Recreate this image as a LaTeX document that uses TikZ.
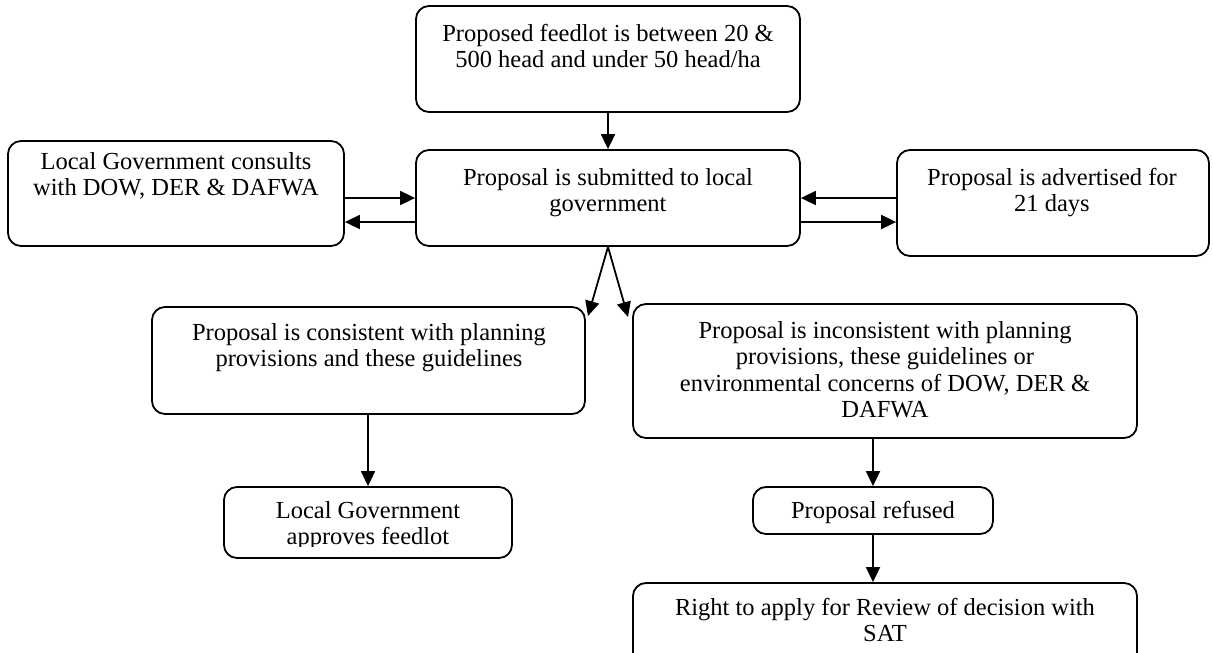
\documentclass[tikz,border=0pt]{standalone}
\usepackage{fontspec}
\setmainfont{Liberation Serif}
\usetikzlibrary{arrows.meta}
\begin{document}
\begin{tikzpicture}[x=1pt,y=-1pt,
  box/.style={draw, line width=1.8pt, rounded corners=13pt, minimum width=#1, inner sep=0pt},
  lbl/.style={anchor=north, align=center, inner sep=0pt, font=\fontsize{24.5}{26.5}\selectfont},
  arr/.style={draw, line width=1.8pt, -{Triangle[length=15pt,width=14pt]}}]
\useasboundingbox (0,0) rectangle (1213,653);
\clip (0,0) rectangle (1213,653);
% boxes
\node[box=384pt, minimum height=106pt] (top) at (608,59) {};
\node[box=384pt, minimum height=96pt] (cent) at (608,198) {};
\node[box=336pt, minimum height=105pt] (left) at (176,193.5) {};
\node[box=312pt, minimum height=106pt] (right) at (1053,203) {};
\node[box=433pt, minimum height=107pt] (cons) at (368.5,360.5) {};
\node[box=504pt, minimum height=134pt] (incons) at (885,371) {};
\node[box=288pt, minimum height=71pt] (appr) at (368,522.5) {};
\node[box=240pt, minimum height=47pt] (ref) at (873,510.5) {};
\node[box=504pt, minimum height=110pt] (sat) at (885,638) {};
% texts
\node[lbl] (ttop) at (608,24) {Proposed feedlot is between 20 \&\\500 head and under 50 head/ha};
\node[lbl] (tcent) at (608,168) {Proposal is submitted to local\\government};
\node[lbl] (tleft) at (176,152) {Local Government consults\\with DOW, DER \& DAFWA};
\node[lbl] (tright) at (1052,168) {Proposal is advertised for\\21 days};
\node[lbl] (tcons) at (369,323) {Proposal is consistent with planning\\provisions and these guidelines};
\node[lbl] (tincons) at (885,321) {Proposal is inconsistent with planning\\provisions, these guidelines or\\environmental concerns of DOW, DER \&\\DAFWA};
\begin{scope}
\clip (224,487) rectangle (512,546);
\node[lbl] (tappr) at (368,501) {Local Government\\approves feedlot};
\end{scope}
\node[lbl] (tref) at (873,501) {Proposal refused};
\node[lbl] (tsat) at (885,598) {Right to apply for Review of decision with\\SAT};
% connectors
\coordinate (ya) at (0,198);
\coordinate (yb) at (0,222);
\coordinate (ccorner) at (588,316);
\coordinate (icorner) at (628,317);
\draw[arr] (top.south) -- (cent.north);
\draw[arr] (left.east |- ya) -- (cent.west |- ya);
\draw[arr] (cent.west |- yb) -- (left.east |- yb);
\draw[arr] (right.west |- ya) -- (cent.east |- ya);
\draw[arr] (cent.east |- yb) -- (right.west |- yb);
\draw[arr] (cent.south) -- (ccorner);
\draw[arr] (cent.south) -- (icorner);
\draw[arr] (appr.north |- cons.south) -- (appr.north);
\draw[arr] (ref.north |- incons.south) -- (ref.north);
\draw[arr] (ref.south) -- (ref.south |- sat.north);
\end{tikzpicture}
\end{document}
